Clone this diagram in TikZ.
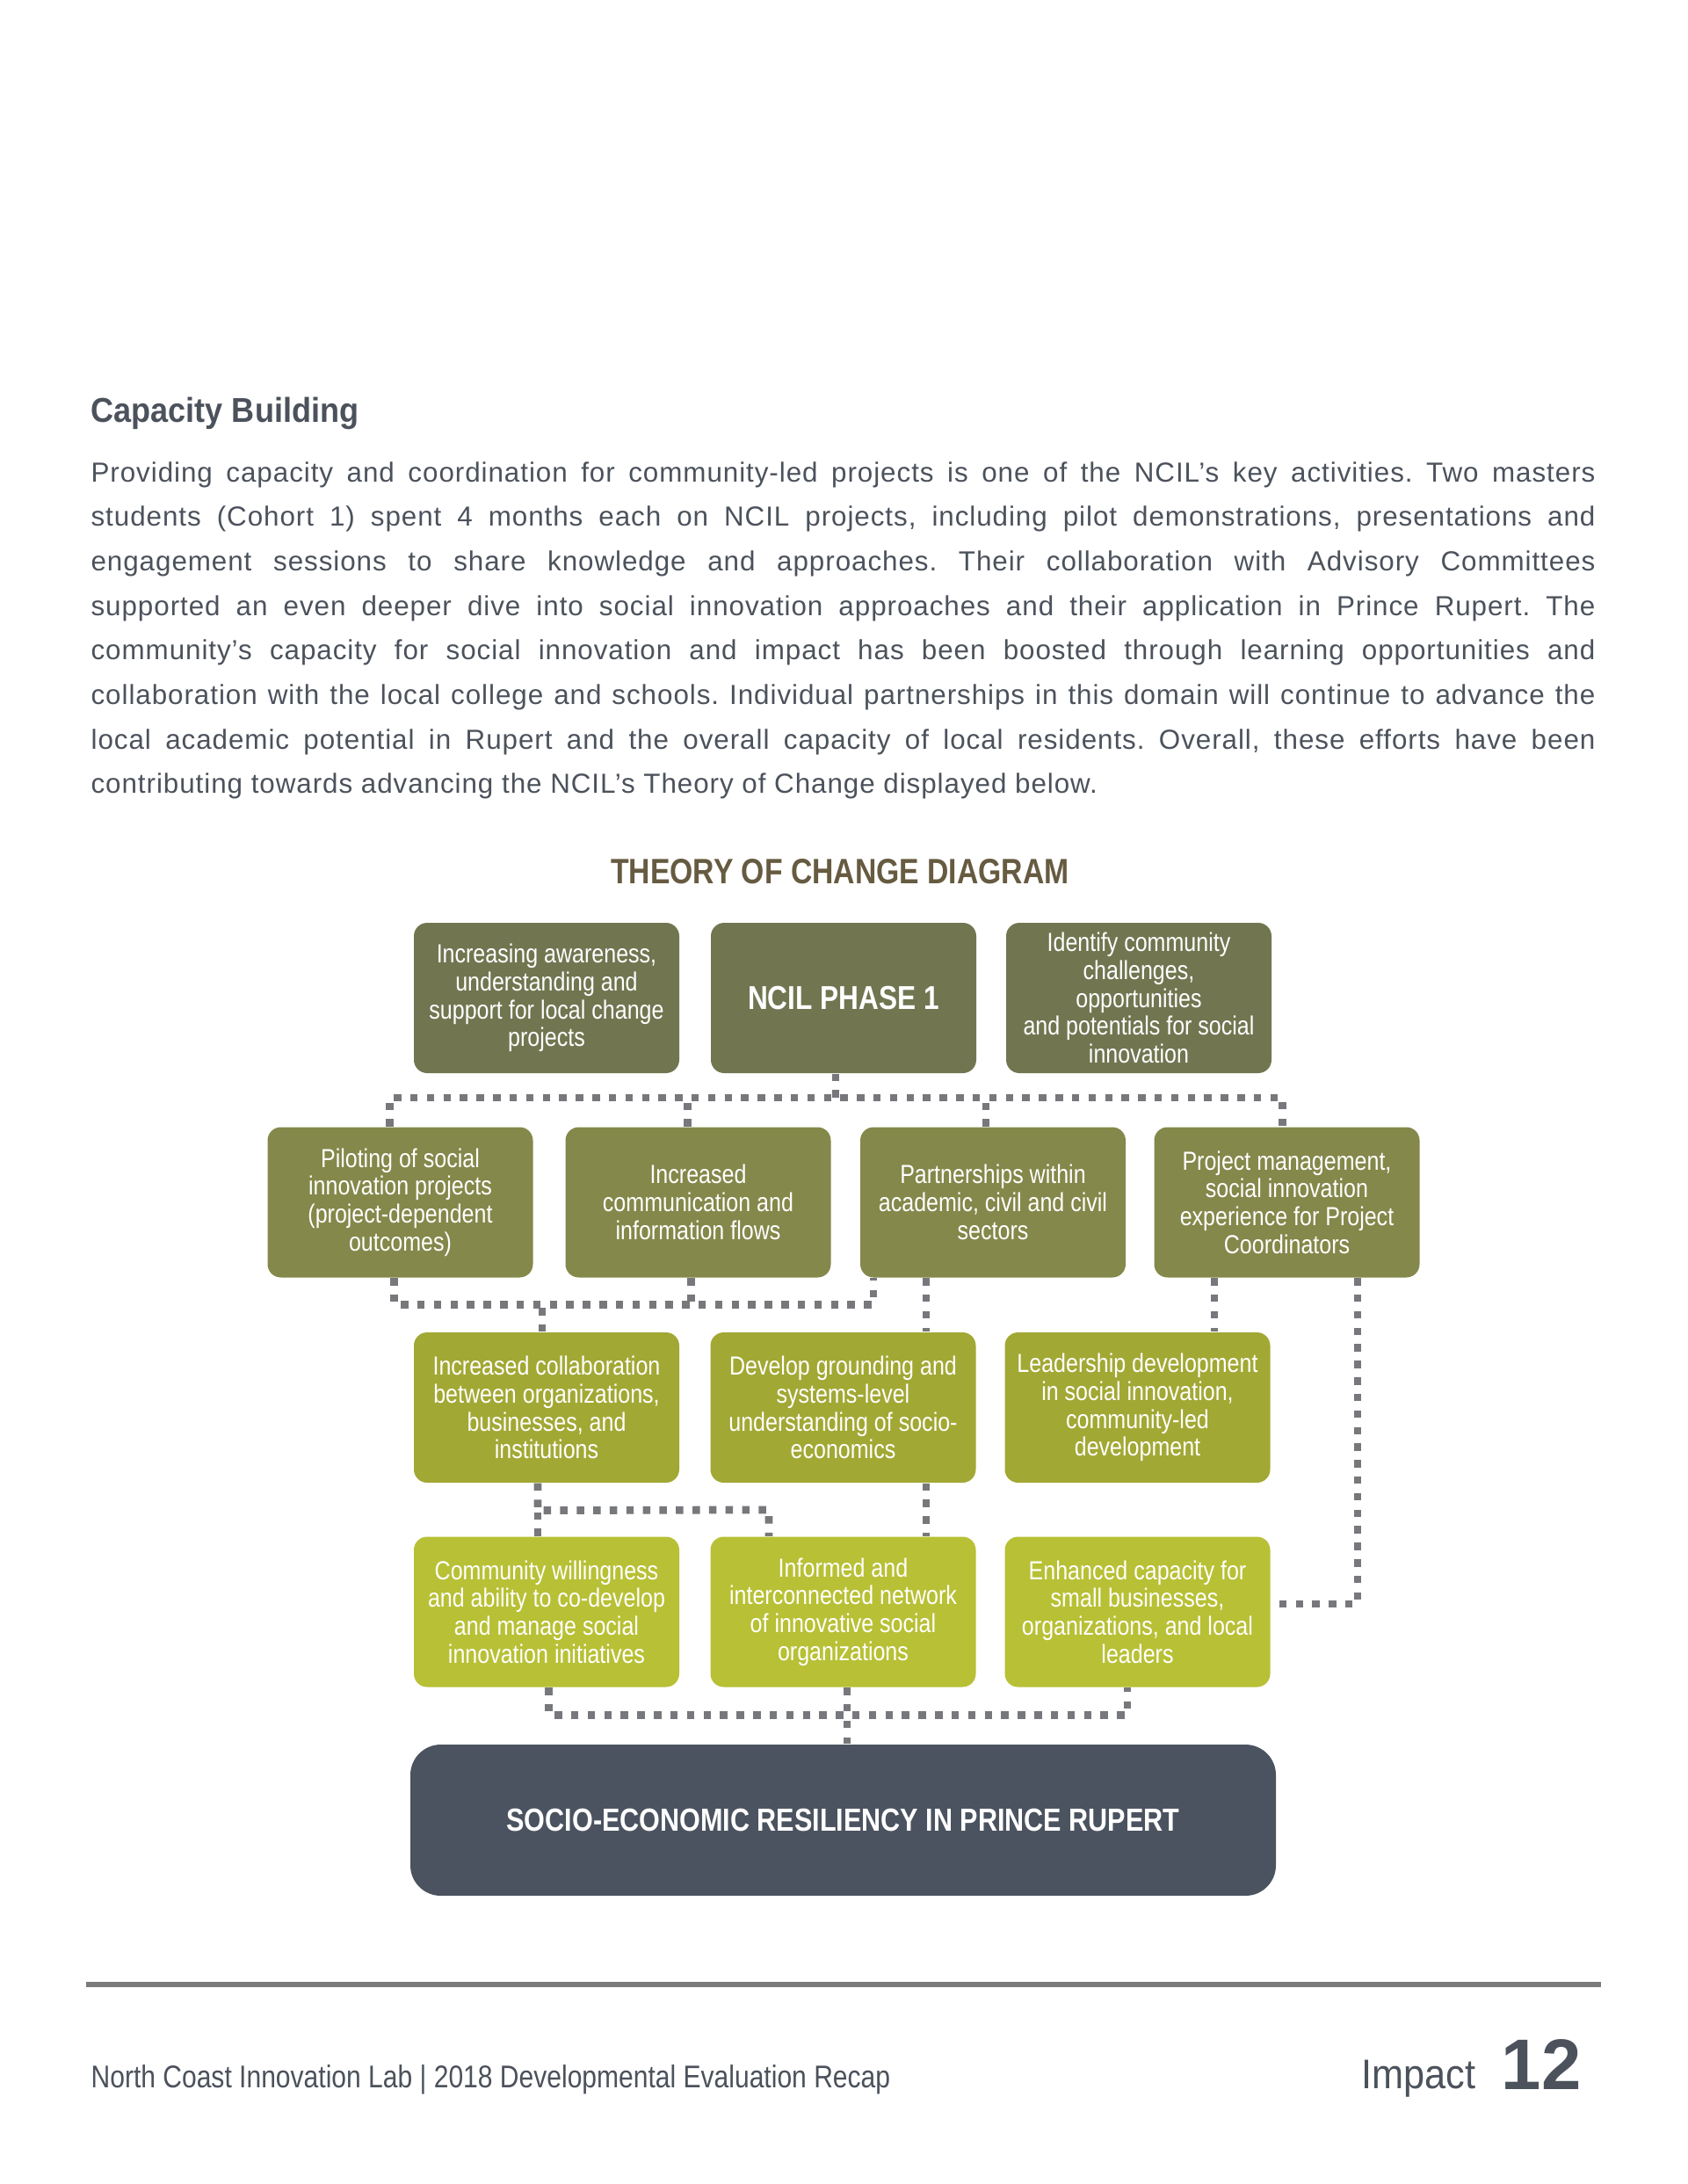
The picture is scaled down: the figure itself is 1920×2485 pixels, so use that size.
\documentclass[tikz,border=0pt]{standalone}
\usepackage{fontspec}
\setmainfont{Liberation Sans}
\newfontfamily\narrowf{Liberation Sans}[FakeStretch=0.84]
\newfontfamily\headf{Liberation Sans}[FakeStretch=0.92]
\newfontfamily\bodyf{Liberation Sans}[LetterSpace=3]
\usetikzlibrary{calc}
\definecolor{rowa}{HTML}{717651}
\definecolor{rowb}{HTML}{84884A}
\definecolor{rowc}{HTML}{A2A834}
\definecolor{rowd}{HTML}{B8C035}
\definecolor{resc}{HTML}{4B5360}
\definecolor{connc}{HTML}{77787B}
\definecolor{titlec}{HTML}{665B41}
\definecolor{txt}{HTML}{4C525C}
\definecolor{footline}{HTML}{7B7B7D}
\frenchspacing
\begin{document}
\begin{tikzpicture}[x=0.31875pt,y=-0.31875pt,
  box/.style={rounded corners=4.8pt, minimum width=96.26pt, minimum height=54.5pt,
    align=center, text=white, inner sep=0pt,
    font=\narrowf\fontsize{9.5}{10.1}\selectfont},
  conn/.style={draw=connc, line width=2.8pt, dash pattern=on 2.7pt off 3.3pt},
  bodyline/.style={anchor=base west, inner sep=0pt, text=txt,
    font=\bodyf\fontsize{10}{12}\selectfont}]
\useasboundingbox[fill=white] (0,0) rectangle (1920,2485);

% heading and body
\node[anchor=base west, inner sep=0pt, text=txt, font=\headf\bfseries\fontsize{12.5}{14}\selectfont] (hd) at (103,480) {Capacity Building};
\node[bodyline] (l1) at (103,548.0) {\makebox[545.7pt][s]{Providing capacity and coordination for community-led projects is one of the NCIL’s key activities. Two masters}};
\node[bodyline] (l2) at (103,598.7) {\makebox[545.7pt][s]{students (Cohort 1) spent 4 months each on NCIL projects, including pilot demonstrations, presentations and}};
\node[bodyline] (l3) at (103,649.4) {\makebox[545.7pt][s]{engagement sessions to share knowledge and approaches. Their collaboration with Advisory Committees}};
\node[bodyline] (l4) at (103,700.1) {\makebox[545.7pt][s]{supported an even deeper dive into social innovation approaches and their application in Prince Rupert. The}};
\node[bodyline] (l5) at (103,750.8) {\makebox[545.7pt][s]{community’s capacity for social innovation and impact has been boosted through learning opportunities and}};
\node[bodyline] (l6) at (103,801.5) {\makebox[545.7pt][s]{collaboration with the local college and schools. Individual partnerships in this domain will continue to advance the}};
\node[bodyline] (l7) at (103,852.2) {\makebox[545.7pt][s]{local academic potential in Rupert and the overall capacity of local residents. Overall, these efforts have been}};
\node[bodyline] (l8) at (103,902.9) {contributing towards advancing the NCIL’s Theory of Change displayed below.};

% title
\node[anchor=base, inner sep=0pt, text=titlec, font=\narrowf\bfseries\fontsize{12.8}{15}\selectfont] (ttl) at (956,1005) {THEORY OF CHANGE DIAGRAM};

% row 1
\node[box, fill=rowa] (a1) at (622,1135.5) {Increasing awareness,\\understanding and\\support for local change\\projects};
\node[box, fill=rowa, font=\narrowf\bfseries\fontsize{12}{14}\selectfont] (ph) at (960,1135.5) {NCIL PHASE 1};
\node[box, fill=rowa] (a3) at (1296,1135.5) {Identify community\\challenges,\\opportunities\\and potentials for social\\innovation};

% row 2
\node[box, fill=rowb] (b1) at (455.5,1368) {Piloting of social\\innovation projects\\(project-dependent\\outcomes)};
\node[box, fill=rowb] (b2) at (794.5,1368) {Increased\\communication and\\information flows};
\node[box, fill=rowb] (b3) at (1130,1368) {Partnerships within\\academic, civil and civil\\sectors};
\node[box, fill=rowb] (b4) at (1464.5,1368) {Project management,\\social innovation\\experience for Project\\Coordinators};

% row 3
\node[box, fill=rowc] (c1) at (622,1601.5) {Increased collaboration\\between organizations,\\businesses, and\\institutions};
\node[box, fill=rowc] (c2) at (959.5,1601.5) {Develop grounding and\\systems-level\\understanding of socio-\\economics};
\node[box, fill=rowc] (c3) at (1294.5,1601.5) {Leadership development\\in social innovation,\\community-led\\development};

% row 4
\node[box, fill=rowd] (d1) at (622,1834) {Community willingness\\and ability to co-develop\\and manage social\\innovation initiatives};
\node[box, fill=rowd] (d2) at (959.5,1834) {Informed and\\interconnected network\\of innovative social\\organizations};
\node[box, fill=rowd] (d3) at (1294.5,1834) {Enhanced capacity for\\small businesses,\\organizations, and local\\leaders};

% result
\node[fill=resc, rounded corners=11pt, minimum width=313.97pt, minimum height=54.8pt, inner sep=0pt,
  text=white, font=\narrowf\bfseries\fontsize{11.6}{14}\selectfont] (res) at (959.5,2071) {SOCIO-ECONOMIC RESILIENCY IN PRINCE RUPERT};

% connectors: phase 1 -> row 2
\draw[conn] ($(b1.north)+(-12,0)$) -- ++(0,-33) -- ($(b4.north)+(-5,-33)$) -- ++(0,33);
\draw[conn] ($(b2.north)+(-12,0)$) -- ++(0,-33);
\draw[conn] ($(b3.north)+(-8,0)$) -- ++(0,-33);
\draw[conn] ($(ph.south)+(-9,0)$) -- ++(0,29);

% row 2 -> row 3
\draw[conn] ($(b1.south)+(-7,0)$) -- ++(0,30) -- ($(b3.south)+(-136,30)$) -- ++(0,-30);
\draw[conn] ($(b2.south)+(-8,0)$) -- ++(0,30);
\draw[conn] ($(c1.north)+(-5,0)$) -- ++(0,-33);
\coordinate (k1) at ($(b3.south)+(-76,0)$);
\draw[conn] (k1) -- (k1 |- c2.north);
\coordinate (k2) at ($(b4.south)+(-82.5,0)$);
\draw[conn] (k2) -- (k2 |- c3.north);
\coordinate (k3) at ($(b4.south)+(80.5,0)$);
\coordinate (k4) at ($(d3.east)+(0,-9)$);
\draw[conn] (k3) |- (k4);

% row 3 -> row 4
\draw[conn] ($(c1.south)+(-10,0)$) -- ++(0,31) -- ($(d2.north)+(-84.5,-30)$) -- ++(0,30);
\draw[conn] ($(d1.north)+(-10,0)$) -- ++(0,-30);
\draw[conn] ($(c2.south)+(94.5,0)$) -- ($(d2.north)+(94.5,0)$);

% row 4 -> result
\draw[conn] ($(d1.south)+(2.5,0)$) -- ++(0,31) -- ($(d3.south)+(-11.5,31)$) -- ++(0,-31);
\draw[conn] ($(d2.south)+(4.5,0)$) -- ($(res.north)+(4.5,0)$);

% footer
\draw[draw=footline, line width=2.2pt] (98,2258) -- (1822,2258);
\node[anchor=base west, inner sep=0pt, text=txt, font=\narrowf\fontsize{11.4}{13}\selectfont] (ft) at (103,2375) {North Coast Innovation Lab | 2018 Developmental Evaluation Recap};
\node[anchor=base west, inner sep=0pt, text=txt, font=\headf\fontsize{15}{17}\selectfont] (imp) at (1549,2376) {Impact};
\node[anchor=base west, inner sep=0pt, text=txt, font=\bfseries\fontsize{26}{30}\selectfont] (pg) at (1708,2377) {12};
\end{tikzpicture}
\end{document}
